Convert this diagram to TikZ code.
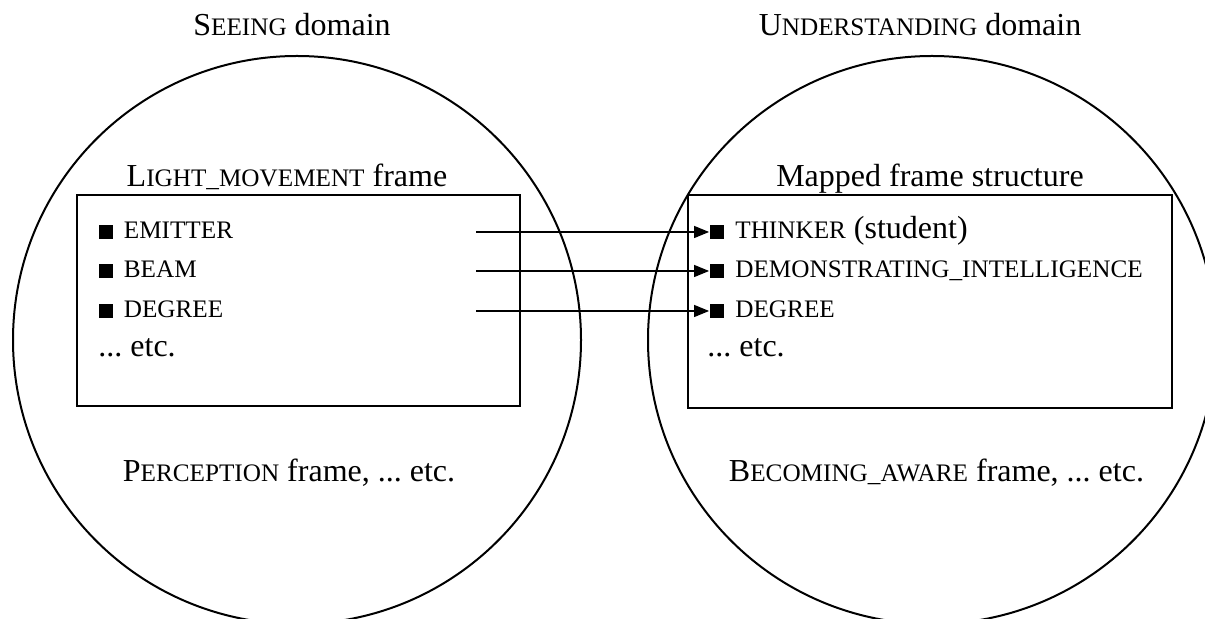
\documentclass[tikz,border=0pt]{standalone}
\usepackage{fontspec}
\setmainfont{Liberation Serif}
\usetikzlibrary{arrows.meta}
% small capitals imitated with smaller upper-case letters
\newcommand\smc[1]{{\fontsize{12.6pt}{15pt}\selectfont #1}}
\frenchspacing
\begin{document}
\begin{tikzpicture}[x=0.5pt,y=-0.5pt,
  lbl/.style={anchor=base, inner sep=0pt, font=\fontsize{16pt}{19pt}\selectfont},
  item/.style={anchor=base west, inner sep=0pt, font=\fontsize{16pt}{19pt}\selectfont},
  bul/.style={fill=black, draw=none, inner sep=0pt, minimum size=7pt},
  frm/.style={draw, line width=0.7pt, inner sep=0pt},
  dom/.style={line width=1pt},
  arr/.style={line width=0.6pt, -{Triangle[length=7.5pt,width=6pt]}}]
\useasboundingbox (0,0) rectangle (1205,619);
\clip (0,0) rectangle (1205,619);

% the two domains
\draw[dom] (297,340) circle[radius=284];
\draw[dom] (932,340) circle[radius=284];
\node[lbl] (dseeing) at (292,36) {S\smc{EEING} domain};
\node[lbl] (dunder) at (920,36) {U\smc{NDERSTANDING} domain};

% source frame
\node[frm, minimum width=221.5pt, minimum height=105.5pt] (lbox) at (298.5,300.5) {};
\node[lbl] (ltitle) at (287,187) {L\smc{IGHT\_MOVEMENT} frame};
\node[bul] (lb1) at (106,232) {};
\node[bul] (lb2) at (106,271) {};
\node[bul] (lb3) at (106,311) {};
\node[item] (lt1) at (123.5,239) {\smc{EMITTER}};
\node[item] (lt2) at (123.5,278) {\smc{BEAM}};
\node[item] (lt3) at (123.5,318) {\smc{DEGREE}};
\node[item] (lt4) at (98,357) {... etc.};
\node[lbl] (lother) at (289,482) {P\smc{ERCEPTION} frame, ... etc.};

% target frame
\node[frm, minimum width=242pt, minimum height=106.5pt] (rbox) at (930,301.5) {};
\node[lbl] (rtitle) at (930,187) {Mapped frame structure};
\node[bul] (rb1) at (716.5,232) {};
\node[bul] (rb2) at (716.5,271) {};
\node[bul] (rb3) at (716.5,311) {};
\node[item] (rt1) at (735,239) {\smc{THINKER} (student)};
\node[item] (rt2) at (735,278) {\smc{DEMONSTRATING\_INTELLIGENCE}};
\node[item] (rt3) at (735,318) {\smc{DEGREE}};
\node[item] (rt4) at (707,357) {... etc.};
\node[lbl] (rother) at (936.5,482) {B\smc{ECOMING\_AWARE} frame, ... etc.};

% mappings between the frame elements
\coordinate (s1) at (476,232);
\coordinate (s2) at (476,271);
\coordinate (s3) at (476,311);
\draw[arr] (s1) -- (rb1.west);
\draw[arr] (s2) -- (rb2.west);
\draw[arr] (s3) -- (rb3.west);
\end{tikzpicture}
\end{document}
